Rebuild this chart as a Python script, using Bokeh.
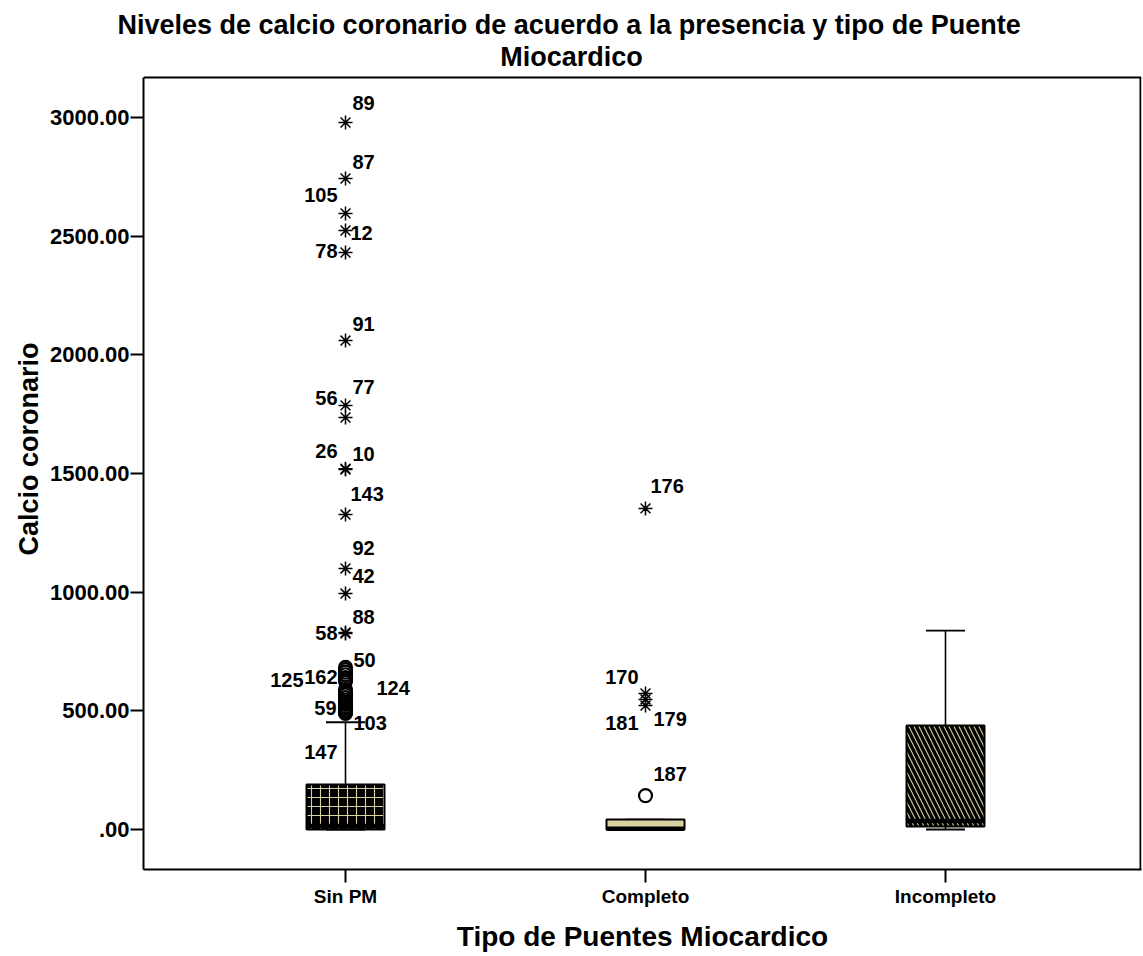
from bokeh.plotting import figure
from bokeh.models import FixedTicker, Label, Range1d, Title, Span
from bokeh.embed import file_html
from bokeh.resources import INLINE

# ---------------- data ----------------
categories = ["Sin PM", "Completo", "Incompleto"]
q1 = [0, 0, 13]
medians = [15, 3, 36]
q3 = [190, 42, 438]
whisker_low = [0, 0, 0]
whisker_high = [452, 42, 838]

sinpm_circle_vals = [489, 495, 502, 510, 518, 527, 535, 545, 556, 567, 578, 590,
                     625, 632, 640, 652, 663, 674, 683]
sinpm_circle_ids = ["103", "147", "", "59", "", "", "", "", "", "", "", "124",
                    "125", "", "162", "", "", "", "50"]
sinpm_star_vals = [2979, 2743, 2596, 2524, 2431, 2060, 1787, 1736, 1517, 1520,
                   1327, 1100, 994, 826, 830]
sinpm_star_ids = ["89", "87", "105", "12", "78", "91", "77", "56", "26", "10",
                  "143", "92", "42", "88", "58"]

completo_circle_vals = [143]
completo_circle_ids = ["187"]
completo_star_vals = [1353, 573, 548, 522]
completo_star_ids = ["176", "170", "179", "181"]

yticks = [0, 500, 1000, 1500, 2000, 2500, 3000]
ytick_labels = [".00", "500.00", "1000.00", "1500.00", "2000.00", "2500.00", "3000.00"]

title_lines = ["Niveles de calcio coronario de acuerdo a la presencia  y tipo de Puente",
               "Miocardico"]
x_title = "Tipo de Puentes Miocardico"
y_title = "Calcio coronario"

# ---------------- style ----------------
# label placement: (dx px, dy px upward, align)
label_style = {
    "89": (7, 19, "left"), "87": (7, 16, "left"), "105": (-8, 18, "right"),
    "12": (5, -3, "left"), "78": (-8, 2, "right"), "91": (7, 17, "left"),
    "77": (7, 18, "left"), "56": (-8, 19, "right"), "26": (-8, 18, "right"),
    "10": (7, 15, "left"), "143": (5, 21, "left"), "92": (7, 20, "left"),
    "42": (7, 18, "left"), "88": (7, 16, "left"), "58": (-8, 0, "right"),
    "50": (8, 7, "left"), "162": (-8, 1, "right"), "125": (-42, 1, "right"),
    "124": (31, 1, "left"), "59": (-9, 0, "right"), "103": (8, -10, "left"),
    "147": (-8, -40, "right"),
    "187": (8, 22, "left"), "176": (5, 22, "left"), "170": (-7, 17, "right"),
    "179": (8, -20, "left"), "181": (-7, -17, "right"),
}
TAN = "#d9d1a2"
FONT = "Liberation Sans"

# pixel geometry (page pixels)
TOP_PANEL = 40          # above panel holding the first title line
BOX_TOP_PX = 77         # visible top border of the box
AXIS_PX = 869           # x axis line
FRAME_W = 998
FRAME_H = AXIS_PX - TOP_PANEL
PX_PER_X = 300.0
y_start = -168.5
y_box_top = 3168.5
PX_PER_Y = (AXIS_PX - BOX_TOP_PX) / (y_box_top - y_start)
y_end = y_start + FRAME_H / PX_PER_Y
x_start = 1 - 202 / PX_PER_X
x_end = x_start + FRAME_W / PX_PER_X

p = figure(frame_width=FRAME_W, frame_height=FRAME_H, title=None,
           min_border_left=143, min_border_top=TOP_PANEL, min_border_right=2,
           min_border_bottom=87,
           x_range=Range1d(x_start, x_end), y_range=Range1d(y_start, y_end),
           output_backend="svg", toolbar_location=None, tools="")
p.background_fill_color = "white"
p.border_fill_color = "white"
p.outline_line_color = None
p.xgrid.visible = False
p.ygrid.visible = False

# top and right borders of the box
p.add_layout(Span(location=y_box_top, dimension="width", line_color="black", line_width=2))
x_right = x_end - 1 / PX_PER_X
p.segment(x0=[x_right], y0=[y_start], x1=[x_right], y1=[y_box_top],
          line_color="black", line_width=2)

# title line 1 (wider than the frame) as a Title, line 2 as a centred label
p.add_layout(Title(text=title_lines[0], align="left", offset=-26, standoff=2,
                   text_font=FONT, text_font_style="bold", text_font_size="27px",
                   text_color="black"), "above")
title_center_x = x_start + (571 - 143) / PX_PER_X
p.add_layout(Label(x=title_center_x, y=y_end - (56 - TOP_PANEL) / PX_PER_Y, text=title_lines[1],
                   text_align="center", text_baseline="alphabetic", text_font=FONT,
                   text_font_style="bold", text_font_size="27px", text_color="black"))

xs = [i + 1 for i in range(len(categories))]
BOX_W = 0.26
CAP_W = 0.13

# whiskers
p.segment(x0=xs, y0=q3, x1=xs, y1=whisker_high, line_color="black", line_width=1.6)
p.segment(x0=xs, y0=q1, x1=xs, y1=whisker_low, line_color="black", line_width=1.6)
p.segment(x0=[x - CAP_W / 2 for x in xs], y0=whisker_high, x1=[x + CAP_W / 2 for x in xs],
          y1=whisker_high, line_color="black", line_width=1.8)
p.segment(x0=[x - CAP_W / 2 for x in xs], y0=whisker_low, x1=[x + CAP_W / 2 for x in xs],
          y1=whisker_low, line_color="black", line_width=1.8)

# boxes
box_fill = ["black", TAN, TAN]
box_hatch = ["+", " ", "\\"]
box_hatch_color = [TAN, "black", "black"]
box_hatch_weight = [1.1, 1, 3.4]
box_hatch_scale = [9, 9, 10]
for i, x in enumerate(xs):
    p.quad(left=x - BOX_W / 2, right=x + BOX_W / 2, bottom=q1[i], top=q3[i],
           fill_color=box_fill[i], hatch_pattern=box_hatch[i], hatch_color=box_hatch_color[i],
           hatch_weight=box_hatch_weight[i], hatch_scale=box_hatch_scale[i],
           line_color="black", line_width=2)
# medians
p.segment(x0=[x - BOX_W / 2 for x in xs], y0=medians, x1=[x + BOX_W / 2 for x in xs],
          y1=medians, line_color="black", line_width=4.5)


def add_points(xc, vals, ids, marker):
    if marker == "circle":
        p.scatter([xc] * len(vals), vals, marker="circle", size=13, fill_alpha=0,
                  line_color="black", line_width=2.2)
    else:
        p.scatter([xc] * len(vals), vals, marker="asterisk", size=14,
                  line_color="black", line_width=1.5)
    for v, lab in zip(vals, ids):
        if not lab:
            continue
        dx, dy, align = label_style[lab]
        p.add_layout(Label(x=xc + dx / PX_PER_X, y=v + dy / PX_PER_Y, text=lab,
                           text_align=align, text_baseline="middle", text_font=FONT,
                           text_font_style="bold", text_font_size="20px", text_color="black"))


add_points(xs[0], sinpm_circle_vals, sinpm_circle_ids, "circle")
add_points(xs[0], sinpm_star_vals, sinpm_star_ids, "star")
add_points(xs[1], completo_circle_vals, completo_circle_ids, "circle")
add_points(xs[1], completo_star_vals, completo_star_ids, "star")

# axes
p.yaxis.ticker = FixedTicker(ticks=yticks)
p.yaxis.major_label_overrides = {t: l for t, l in zip(yticks, ytick_labels)}
p.yaxis.bounds = (y_start, y_box_top)
p.xaxis.ticker = FixedTicker(ticks=xs)
p.xaxis.major_label_overrides = {x: c for x, c in zip(xs, categories)}
for ax in (p.xaxis[0], p.yaxis[0]):
    ax.minor_tick_line_color = None
    ax.major_tick_in = 0
    ax.major_tick_out = 13
    ax.axis_line_width = 2
    ax.major_tick_line_width = 2
    ax.axis_line_color = "black"
    ax.major_tick_line_color = "black"
    ax.major_label_text_color = "black"
    ax.major_label_text_font = FONT
    ax.major_label_text_font_style = "bold"
    ax.axis_label_text_color = "black"
    ax.axis_label_text_font = FONT
    ax.axis_label_text_font_style = "bold"
    ax.axis_label_text_font_size = "28px"
p.yaxis.major_label_standoff = 1
p.yaxis.major_label_text_font_size = "22px"
p.xaxis.major_label_standoff = 3
p.xaxis.major_label_text_font_size = "19px"
p.xaxis.axis_label = x_title
p.xaxis.axis_label_standoff = 11

# y-axis title as a side title, its start 314px above the x axis
p.add_layout(Title(text=y_title, align="left", offset=314, standoff=6,
                   text_font=FONT, text_font_style="bold", text_font_size="27px",
                   text_color="black"), "left")

open("out.html", "w").write(file_html(p, INLINE))
